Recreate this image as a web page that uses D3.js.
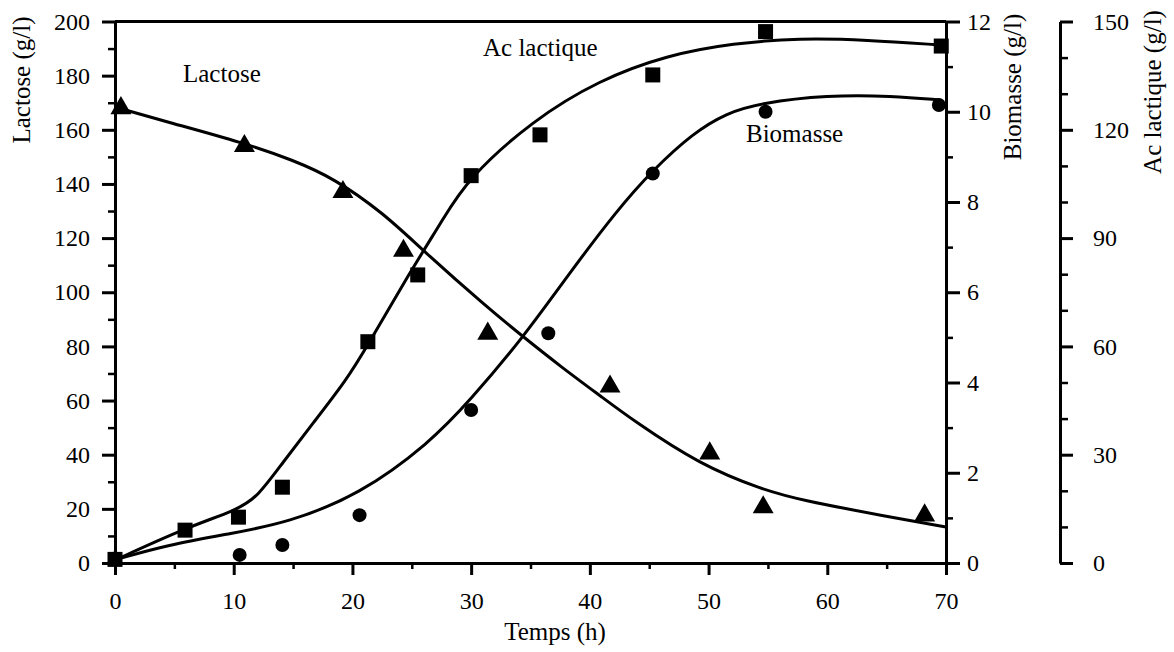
<!DOCTYPE html>
<html><head><meta charset="utf-8">
<script src="https://cdn.jsdelivr.net/npm/d3@7"></script>
<style>
html,body{margin:0;padding:0;background:#fff;}
text{font-family:"Liberation Serif","Times New Roman",serif;fill:#000;}
</style></head>
<body>
<svg id="c" width="1174" height="652"></svg>
<script>
// ---- data ----
const lactoseT = [0.5, 10.9, 19.2, 24.3, 31.4, 41.7, 50.1, 54.6, 68.2];
const lactoseV = [168, 154, 137, 115.3, 84.7, 65.2, 40.5, 20.6, 17.6];
const acT = [0, 5.9, 10.4, 14.1, 21.3, 25.5, 30, 35.8, 45.3, 54.8, 69.6];
const acV = [1, 9.1, 12.7, 21, 61.3, 79.8, 107.3, 118.6, 135.2, 147.2, 143.2];
const bioT = [0, 10.5, 14.1, 20.6, 30, 36.5, 45.3, 54.8, 69.4];
const bioV = [0.1, 0.18, 0.4, 1.06, 3.39, 5.09, 8.63, 10.0, 10.15];

const lactoseCurveT = [0, 4.4, 10.9, 15, 18.4, 22.6, 25.9, 31.3, 34.4, 37.5, 41.1, 43.6, 49.3, 54.6, 57.7, 65, 70];
const lactoseCurveV = [168.4, 162.9, 155.1, 148.8, 142.2, 129.3, 115.6, 94.6, 83.5, 72.7, 61, 52.8, 36.2, 27, 23.3, 17.2, 13.3];
const acCurveT = [0, 5.9, 10.3, 12, 14.1, 16.7, 19.5, 21.2, 24.8, 27.6, 29.6, 35.2, 40.8, 46.5, 52.1, 57.7, 63.3, 69.5];
const acCurveV = [0.8, 9.7, 14.7, 18.3, 27.7, 38.8, 50.7, 59.8, 80.3, 95, 106.1, 122.7, 133.8, 140.7, 144, 145.4, 144.9, 143.5];
const bioCurveT = [0, 4.4, 9.9, 14.5, 20.6, 26.5, 29.9, 34.4, 38.3, 42.3, 45.3, 48.7, 51.5, 54.3, 60, 65.5, 69.5];
const bioCurveV = [0.07, 0.4, 0.66, 0.89, 1.51, 2.66, 3.6, 5.0, 6.43, 7.82, 8.71, 9.53, 9.97, 10.19, 10.37, 10.35, 10.26];

const xTicks = [0, 10, 20, 30, 40, 50, 60, 70];
const lactoseTicks = [0, 20, 40, 60, 80, 100, 120, 140, 160, 180, 200];
const bioTicks = [0, 2, 4, 6, 8, 10, 12];
const acTicks = [0, 30, 60, 90, 120, 150];

// ---- scales ----
const svg = d3.select("#c");
const x = d3.scaleLinear().domain([0, 70]).range([115, 946]);
const yL = d3.scaleLinear().domain([0, 200]).range([563, 21.5]);
const yB = d3.scaleLinear().domain([0, 12]).range([563, 21.5]);
const yA = d3.scaleLinear().domain([0, 150]).range([563, 21.5]);

const FS = 24;
function styleAxis(g, sw) {
  g.selectAll("path.domain").attr("stroke", "#000").attr("stroke-width", 3);
  g.selectAll(".tick line").attr("stroke", "#000").attr("stroke-width", sw || 3);
  g.selectAll(".tick text").attr("font-size", FS).attr("font-family", '"Liberation Serif",serif').attr("fill", "#000");
  g.attr("font-family", null).attr("font-size", null);
}

// top border
svg.append("line").attr("x1", x(0)).attr("x2", x(70)).attr("y1", yL(200)).attr("y2", yL(200))
  .attr("stroke", "#000").attr("stroke-width", 3);

// left axis (Lactose)
const gL = svg.append("g").attr("transform", `translate(${x(0)},0)`);
gL.append("g").call(d3.axisLeft(yL).tickValues(d3.range(10, 200, 20)).tickSize(7).tickFormat("").tickSizeOuter(0))
  .call(g => { g.select(".domain").remove(); styleAxis(g, 2.5); });
gL.append("g").call(d3.axisLeft(yL).tickValues(lactoseTicks).tickSize(13).tickPadding(12).tickSizeOuter(0))
  .call(g => styleAxis(g));

// bottom axis
const gX = svg.append("g").attr("transform", `translate(0,${yL(0)})`);
gX.append("g").call(d3.axisBottom(x).tickValues(d3.range(5, 70, 10)).tickSize(6).tickFormat("").tickSizeOuter(0))
  .call(g => { g.select(".domain").remove(); styleAxis(g, 2.5); });
gX.append("g").call(d3.axisBottom(x).tickValues(xTicks).tickSize(12).tickPadding(17).tickSizeOuter(0))
  .call(g => styleAxis(g));

// right axis (Biomasse)
const gB = svg.append("g").attr("transform", `translate(${x(70)},0)`);
gB.append("g").call(d3.axisRight(yB).tickValues(d3.range(1, 12, 2)).tickSize(7).tickFormat("").tickSizeOuter(0))
  .call(g => { g.select(".domain").remove(); styleAxis(g, 2.5); });
gB.append("g").call(d3.axisRight(yB).tickValues(bioTicks).tickSize(14).tickPadding(7).tickSizeOuter(0))
  .call(g => styleAxis(g));

// far right axis (Ac lactique)
const gA = svg.append("g").attr("transform", "translate(1060,0)");
gA.append("g").call(d3.axisRight(yA).tickValues(d3.range(10, 150, 10).filter(v => v % 30 !== 0)).tickSize(8).tickFormat("").tickSizeOuter(0))
  .call(g => { g.select(".domain").remove(); styleAxis(g, 2.5); });
gA.append("g").call(d3.axisRight(yA).tickValues(acTicks).tickSize(13).tickPadding(20).tickSizeOuter(0))
  .call(g => styleAxis(g));

// axis titles
svg.append("text").attr("transform", "translate(30,80) rotate(-90)").attr("text-anchor", "middle")
  .attr("font-size", 25).text("Lactose (g/l)");
svg.append("text").attr("transform", "translate(1021,87) rotate(-90)").attr("text-anchor", "middle")
  .attr("font-size", 25).text("Biomasse (g/l)");
svg.append("text").attr("transform", "translate(1161,92) rotate(-90)").attr("text-anchor", "middle")
  .attr("font-size", 25).text("Ac lactique (g/l)");
svg.append("text").attr("x", 555).attr("y", 640).attr("text-anchor", "middle")
  .attr("font-size", 25).text("Temps (h)");

// in-plot labels
svg.append("text").attr("x", 183).attr("y", 82).attr("font-size", 25).text("Lactose");
svg.append("text").attr("x", 483).attr("y", 56).attr("font-size", 25).text("Ac lactique");
svg.append("text").attr("x", 746).attr("y", 142).attr("font-size", 25).text("Biomasse");

// curves
const curve = d3.curveBasis;
function drawCurve(T, V, ys) {
  const pts = T.map((t, i) => [t, V[i]]);
  svg.append("path").datum(pts)
    .attr("d", d3.line().x(d => x(d[0])).y(d => ys(d[1])).curve(curve))
    .attr("fill", "none").attr("stroke", "#000").attr("stroke-width", 3);
}
drawCurve(lactoseCurveT, lactoseCurveV, yL);
drawCurve(acCurveT, acCurveV, yA);
drawCurve(bioCurveT, bioCurveV, yB);

// markers
const tri = d3.symbol().type(d3.symbolTriangle).size(190);
svg.append("g").selectAll("path").data(lactoseT.map((t, i) => [t, lactoseV[i]])).join("path")
  .attr("d", tri).attr("transform", d => `translate(${x(d[0])},${yL(d[1])})`).attr("fill", "#000");

svg.append("g").selectAll("rect").data(acT.map((t, i) => [t, acV[i]])).join("rect")
  .attr("x", d => x(d[0]) - 7.5).attr("y", d => yA(d[1]) - 7.5).attr("width", 15).attr("height", 15).attr("fill", "#000");

svg.append("g").selectAll("circle").data(bioT.map((t, i) => [t, bioV[i]])).join("circle")
  .attr("cx", d => x(d[0])).attr("cy", d => yB(d[1])).attr("r", 7).attr("fill", "#000");
</script>
</body></html>
